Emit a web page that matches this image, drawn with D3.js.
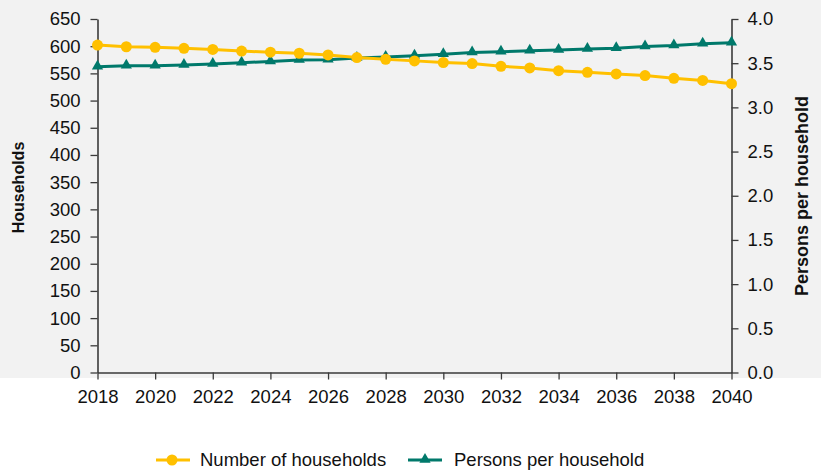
<!DOCTYPE html>
<html>
<head>
<meta charset="utf-8">
<script src="https://cdn.jsdelivr.net/npm/d3@7/dist/d3.min.js"></script>
<style>
  html, body { margin: 0; padding: 0; background: #ffffff; }
  svg { display: block; font-family: "Liberation Sans", Arial, sans-serif; }
</style>
</head>
<body>
<svg id="chart" width="821" height="476"></svg>
<script>
const years = d3.range(2018, 2041);
const households = [602, 599, 598, 596, 594, 591, 589, 587, 584, 579, 576, 573, 570, 568, 563, 560, 555, 552, 549, 546, 541, 537, 531];
const personsPerHousehold = [3.46, 3.47, 3.47, 3.48, 3.49, 3.505, 3.52, 3.535, 3.54, 3.56, 3.57, 3.585, 3.60, 3.62, 3.63, 3.64, 3.65, 3.66, 3.67, 3.69, 3.70, 3.72, 3.73];
const leftTicks = d3.range(0, 651, 50);
const rightTicks = [0, 0.5, 1, 1.5, 2, 2.5, 3, 3.5, 4];
const xTicks = d3.range(2018, 2041, 2);
const seriesNames = ["Number of households", "Persons per household"];

const W = 821, H = 476;
const plot = { left: 97.5, right: 731.5, top: 19, bottom: 372.5 };
const yellow = "#FFC000", teal = "#00796B", axisColor = "#3a3a3a";
const tickFont = "18.5px";

const svg = d3.select("#chart");
svg.append("rect").attr("x", 0).attr("y", 0).attr("width", W).attr("height", 378).attr("fill", "#f2f2f2");

const x = d3.scaleLinear().domain([2018, 2040]).range([plot.left, plot.right]);
const yL = d3.scaleLinear().domain([0, 650]).range([plot.bottom, plot.top]);
const yR = d3.scaleLinear().domain([0, 4]).range([plot.bottom, plot.top]);

function styleAxis(g) {
  g.selectAll("path.domain").attr("stroke", axisColor).attr("stroke-width", 1.6);
  g.selectAll(".tick line").attr("stroke", axisColor).attr("stroke-width", 1.3);
  g.selectAll(".tick text").attr("fill", "#111").attr("font-size", tickFont)
    .attr("font-family", "'Liberation Sans', Arial, sans-serif");
}

svg.append("g").attr("transform", `translate(${plot.left},0)`)
  .call(d3.axisLeft(yL).tickValues(leftTicks).tickSize(7).tickPadding(10).tickSizeOuter(0))
  .call(styleAxis);

svg.append("g").attr("transform", `translate(${plot.right},0)`)
  .call(d3.axisRight(yR).tickValues(rightTicks).tickFormat(d3.format(".1f")).tickSize(7).tickPadding(9).tickSizeOuter(0))
  .call(styleAxis);

svg.append("g").attr("transform", `translate(0,${plot.bottom})`)
  .call(d3.axisBottom(x).tickValues(xTicks).tickFormat(d3.format("d")).tickSize(7).tickPadding(10).tickSizeOuter(0))
  .call(styleAxis);

// axis titles
svg.append("text").attr("transform", `translate(24,${(143+232)/2}) rotate(-90)`)
  .attr("text-anchor", "middle").attr("font-weight", "bold").attr("font-size", "16px").attr("fill", "#111")
  .text("Households");
svg.append("text").attr("transform", `translate(808,196) rotate(-90)`)
  .attr("text-anchor", "middle").attr("font-weight", "bold").attr("font-size", "18px").attr("fill", "#111")
  .text("Persons per household");

// lines
const hhData = years.map((yr, i) => ({ x: yr, y: households[i] }));
const ppData = years.map((yr, i) => ({ x: yr, y: personsPerHousehold[i] }));

svg.append("path").datum(ppData).attr("fill", "none").attr("stroke", teal).attr("stroke-width", 3)
  .attr("d", d3.line().x(d => x(d.x)).y(d => yR(d.y)));
svg.append("path").datum(hhData).attr("fill", "none").attr("stroke", yellow).attr("stroke-width", 3)
  .attr("d", d3.line().x(d => x(d.x)).y(d => yL(d.y)));

const tri = d3.symbol().type(d3.symbolTriangle).size(55);
svg.append("g").selectAll("path").data(ppData).join("path")
  .attr("d", tri).attr("fill", teal)
  .attr("transform", d => `translate(${x(d.x)},${yR(d.y) - 0.5})`);
svg.append("g").selectAll("circle").data(hhData).join("circle")
  .attr("cx", d => x(d.x)).attr("cy", d => yL(d.y)).attr("r", 5.5).attr("fill", yellow);

// legend
const leg = svg.append("g");
const ly = 460;
leg.append("line").attr("x1", 156).attr("x2", 190).attr("y1", ly).attr("y2", ly).attr("stroke", yellow).attr("stroke-width", 3);
leg.append("circle").attr("cx", 172).attr("cy", ly).attr("r", 5.5).attr("fill", yellow);
leg.append("text").attr("x", 200).attr("y", ly).attr("dy", "0.35em").attr("font-size", tickFont).attr("fill", "#111").text(seriesNames[0]);
leg.append("line").attr("x1", 408).attr("x2", 442).attr("y1", ly).attr("y2", ly).attr("stroke", teal).attr("stroke-width", 3);
leg.append("path").attr("d", tri).attr("fill", teal).attr("transform", `translate(425,${ly - 0.5})`);
leg.append("text").attr("x", 454).attr("y", ly).attr("dy", "0.35em").attr("font-size", tickFont).attr("fill", "#111").text(seriesNames[1]);
</script>
</body>
</html>
